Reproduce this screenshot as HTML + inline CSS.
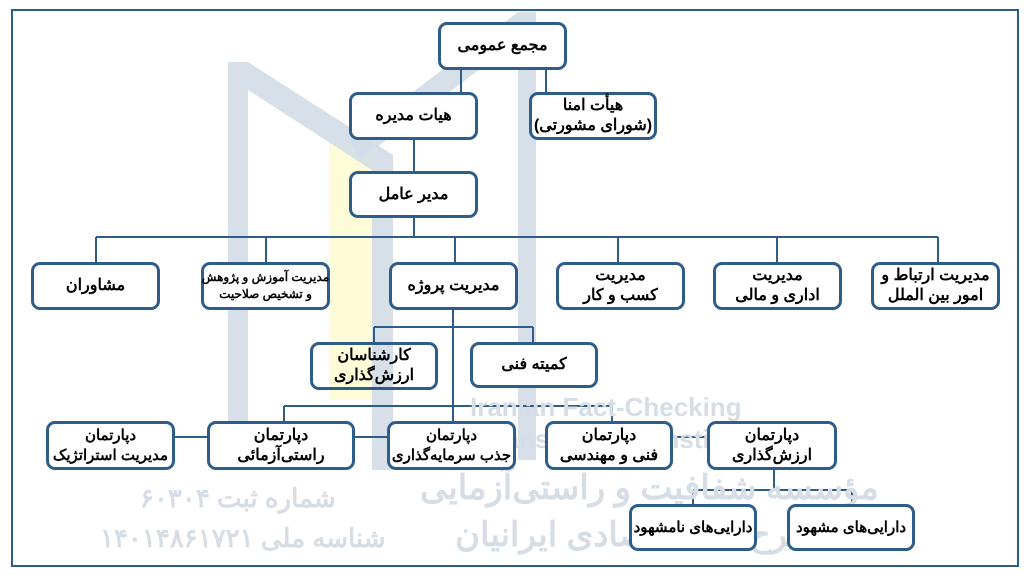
<!DOCTYPE html>
<html><head><meta charset="utf-8">
<style>
html,body{margin:0;padding:0;background:#fff;}
#c{position:relative;width:1024px;height:575px;overflow:hidden;background:#fff;font-family:"Liberation Sans","Noto Sans CJK SC",sans-serif;}
.b{position:absolute;box-sizing:border-box;border:3px solid #2f5d8a;border-radius:9px;background:#fff;display:flex;align-items:center;justify-content:center;text-align:center;font-weight:bold;font-size:16px;line-height:20px;color:#000;direction:rtl;white-space:nowrap;}
.w{position:absolute;color:#d6dde5;font-weight:bold;white-space:nowrap;}
</style></head><body><div id="c">
<svg width="1024" height="575" style="position:absolute;left:0;top:0">
<rect x="12" y="10" width="1006" height="556" fill="none" stroke="#2f5d8a" stroke-width="2"/>
<polygon points="329,143 375,143 375,400 329,400" fill="#fdfbd8"/>
<polygon points="228,62 248,62 393,155 393,470 372,470 372,170 248,90 248,470 228,470" fill="#d3dde7" opacity="0.9"/>
<polygon points="518,12 536,12 536,460 518,460 518,40 360,160 350,140" fill="#d3dde7" opacity="0.9"/>
<g stroke="#2f5d8a" stroke-width="2" fill="none">
<line x1="461" y1="70" x2="461" y2="92"/>
<line x1="546" y1="70" x2="546" y2="92"/>
<line x1="414" y1="140" x2="414" y2="171"/>
<line x1="414" y1="218" x2="414" y2="237"/>
<line x1="96" y1="237" x2="938" y2="237"/>
<line x1="96" y1="237" x2="96" y2="262"/>
<line x1="266" y1="237" x2="266" y2="262"/>
<line x1="455" y1="237" x2="455" y2="262"/>
<line x1="618" y1="237" x2="618" y2="262"/>
<line x1="777" y1="237" x2="777" y2="262"/>
<line x1="938" y1="237" x2="938" y2="262"/>
<line x1="453" y1="310" x2="453" y2="421"/>
<line x1="374" y1="327" x2="533" y2="327"/>
<line x1="374" y1="327" x2="374" y2="342"/>
<line x1="533" y1="327" x2="533" y2="342"/>
<line x1="284" y1="406" x2="612" y2="406"/>
<line x1="284" y1="406" x2="284" y2="421"/>
<line x1="612" y1="406" x2="612" y2="421"/>
<line x1="175" y1="437" x2="207" y2="437"/>
<line x1="355" y1="437" x2="387" y2="437"/>
<line x1="673" y1="437" x2="707" y2="437"/>
<line x1="774" y1="470" x2="774" y2="490"/>
<line x1="693" y1="490" x2="852" y2="490"/>
<line x1="693" y1="490" x2="693" y2="504"/>
<line x1="852" y1="490" x2="852" y2="504"/>
</g>
</svg>
<div class="w" style="left:470px;top:392px;font-size:26px;">Iranian Fact-Checking</div>
<div class="w" style="left:480px;top:424px;font-size:26px;">Transparency Institute</div>
<div class="w" style="left:420px;top:468px;font-size:34px;direction:rtl;">مؤسسه شفافیت و راستی‌آزمایی</div>
<div class="w" style="left:455px;top:515px;font-size:34px;direction:rtl;">طرح‌های اقتصادی ایرانیان</div>
<div class="w" style="left:140px;top:483px;font-size:26px;direction:rtl;">شماره ثبت ۶۰۳۰۴</div>
<div class="w" style="left:100px;top:523px;font-size:26px;direction:rtl;">شناسه ملی ۱۴۰۱۴۸۶۱۷۲۱</div>

<div class="b" style="left:438px;top:22px;width:129px;height:48px;">مجمع عمومی</div>
<div class="b" style="left:349px;top:92px;width:129px;height:48px;">هیات مدیره</div>
<div class="b" style="left:529px;top:92px;width:128px;height:48px;">هیأت امنا<br>(شورای مشورتی)</div>
<div class="b" style="left:349px;top:171px;width:129px;height:47px;">مدیر عامل</div>

<div class="b" style="left:31px;top:262px;width:129px;height:48px;">مشاوران</div>
<div class="b" style="left:201px;top:262px;width:129px;height:48px;font-size:12px;line-height:17px;">مدیریت آموزش و پژوهش<br>و تشخیص صلاحیت</div>
<div class="b" style="left:389px;top:262px;width:129px;height:48px;">مدیریت پروژه</div>
<div class="b" style="left:556px;top:262px;width:129px;height:48px;">مدیریت<br>کسب و کار</div>
<div class="b" style="left:713px;top:262px;width:129px;height:48px;">مدیریت<br>اداری و مالی</div>
<div class="b" style="left:871px;top:262px;width:129px;height:48px;">مدیریت ارتباط و<br>امور بین الملل</div>

<div class="b" style="left:310px;top:342px;width:128px;height:48px;background:transparent;">کارشناسان<br>ارزش‌گذاری</div>
<div class="b" style="left:470px;top:342px;width:128px;height:46px;">کمیته فنی</div>

<div class="b" style="left:46px;top:421px;width:129px;height:49px;font-size:15px;">دپارتمان<br>مدیریت استراتژیک</div>
<div class="b" style="left:207px;top:421px;width:148px;height:49px;">دپارتمان<br>راستی‌آزمائی</div>
<div class="b" style="left:387px;top:421px;width:129px;height:49px;font-size:15px;">دپارتمان<br>جذب سرمایه‌گذاری</div>
<div class="b" style="left:545px;top:421px;width:128px;height:49px;">دپارتمان<br>فنی و مهندسی</div>
<div class="b" style="left:707px;top:421px;width:130px;height:49px;">دپارتمان<br>ارزش‌گذاری</div>

<div class="b" style="left:629px;top:504px;width:128px;height:47px;font-size:15px;">دارایی‌های نامشهود</div>
<div class="b" style="left:787px;top:504px;width:128px;height:47px;font-size:15px;">دارایی‌های مشهود</div>
</div></body></html>
